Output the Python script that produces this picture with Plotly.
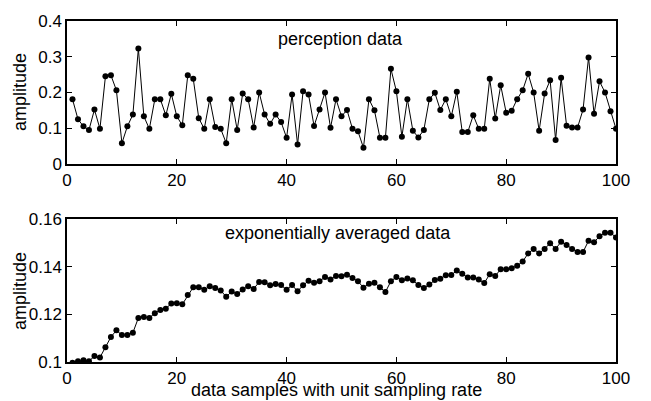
import plotly.graph_objects as go

x = list(range(1, 101))

perception = [
    0.181, 0.125, 0.105, 0.095, 0.152, 0.098, 0.245, 0.248, 0.206, 0.058,
    0.105, 0.138, 0.323, 0.133, 0.098, 0.181, 0.181, 0.136, 0.196, 0.133,
    0.108, 0.248, 0.238, 0.128, 0.098, 0.181, 0.103, 0.098, 0.058, 0.181,
    0.095, 0.197, 0.181, 0.102, 0.200, 0.138, 0.112, 0.138, 0.117, 0.073,
    0.194, 0.054, 0.203, 0.194, 0.106, 0.152, 0.200, 0.101, 0.181, 0.133,
    0.151, 0.098, 0.091, 0.045, 0.181, 0.150, 0.073, 0.073, 0.266, 0.203,
    0.076, 0.181, 0.093, 0.074, 0.095, 0.181, 0.199, 0.151, 0.181, 0.133,
    0.202, 0.089, 0.089, 0.136, 0.098, 0.098, 0.238, 0.127, 0.220, 0.143,
    0.149, 0.181, 0.206, 0.252, 0.200, 0.093, 0.197, 0.234, 0.067, 0.241,
    0.107, 0.102, 0.102, 0.152, 0.298, 0.140, 0.231, 0.200, 0.147, 0.098,
]

averaged = [
    0.0997, 0.1003, 0.1007, 0.1003, 0.1025, 0.1019, 0.1062, 0.1105, 0.1133, 0.1113,
    0.1113, 0.1123, 0.1185, 0.1189, 0.1185, 0.1205, 0.1218, 0.1224, 0.1246, 0.1247,
    0.1242, 0.1281, 0.1314, 0.1314, 0.1303, 0.1318, 0.1311, 0.1300, 0.1274, 0.1296,
    0.1286, 0.1304, 0.1318, 0.1307, 0.1336, 0.1335, 0.1322, 0.1328, 0.1323, 0.1303,
    0.1323, 0.1297, 0.1322, 0.1341, 0.1333, 0.1339, 0.1357, 0.1346, 0.1361, 0.1360,
    0.1366, 0.1353, 0.1339, 0.1312, 0.1329, 0.1333, 0.1314, 0.1294, 0.1339, 0.1357,
    0.1343, 0.1351, 0.1343, 0.1323, 0.1311, 0.1325, 0.1344, 0.1350, 0.1364, 0.1365,
    0.1384, 0.1371, 0.1355, 0.1355, 0.1346, 0.1332, 0.1368, 0.1361, 0.1390, 0.1390,
    0.1394, 0.1404, 0.1422, 0.1456, 0.1475, 0.1456, 0.1475, 0.1499, 0.1475, 0.1505,
    0.1491, 0.1475, 0.1462, 0.1462, 0.1509, 0.1503, 0.1528, 0.1543, 0.1543, 0.1523,
]

x_ticks = [0, 20, 40, 60, 80, 100]
top_y_ticks = [0, 0.1, 0.2, 0.3, 0.4]
top_y_labels = ["0", "0.1", "0.2", "0.3", "0.4"]
bot_y_ticks = [0.1, 0.12, 0.14, 0.16]
bot_y_labels = ["0.1", "0.12", "0.14", "0.16"]

FONT = "Arial, Liberation Sans, sans-serif"
TICKFONT = dict(family=FONT, size=17, color="black")

fig = go.Figure()
fig.add_trace(go.Scatter(
    x=x, y=perception, mode="lines+markers",
    line=dict(color="black", width=1),
    marker=dict(color="black", size=6),
    xaxis="x", yaxis="y", showlegend=False,
))
fig.add_trace(go.Scatter(
    x=x, y=averaged, mode="lines+markers",
    line=dict(color="black", width=1),
    marker=dict(color="black", size=6),
    xaxis="x2", yaxis="y2", showlegend=False,
))

axis_common = dict(
    showline=True, linecolor="black", linewidth=1.5, mirror="ticks",
    ticks="inside", ticklen=5, tickcolor="black", tickwidth=1,
    showgrid=False, zeroline=False, tickfont=TICKFONT,
)

fig.update_layout(
    width=651, height=401,
    margin=dict(l=67, r=35, t=16, b=39),
    paper_bgcolor="white", plot_bgcolor="white",
    xaxis=dict(domain=[0, 1], range=[0, 100], tickvals=x_ticks, anchor="y", **axis_common),
    yaxis=dict(domain=[0.581, 1], range=[0, 0.4], tickvals=top_y_ticks,
               ticktext=top_y_labels, anchor="x", **axis_common),
    xaxis2=dict(domain=[0, 1], range=[0, 100], tickvals=x_ticks, anchor="y2", **axis_common),
    yaxis2=dict(domain=[0, 0.419], range=[0.1, 0.16], tickvals=bot_y_ticks,
                ticktext=bot_y_labels, anchor="x2", **axis_common),
    font=dict(family=FONT, size=18, color="black"),
)

fig.add_annotation(text="perception data", x=38, y=0.35, xref="x", yref="y",
                   xanchor="left", yanchor="middle", showarrow=False,
                   font=dict(family=FONT, size=18, color="black"))
fig.add_annotation(text="exponentially averaged data", x=28.4, y=0.154, xref="x2", yref="y2",
                   xanchor="left", yanchor="middle", showarrow=False,
                   font=dict(family=FONT, size=18, color="black"))
fig.add_annotation(text="amplitude", x=20, y=88, xref="paper", yref="paper",
                   showarrow=False, textangle=-90,
                   font=dict(family=FONT, size=18, color="black"))
fig.add_annotation(text="amplitude", x=20, y=290, xref="paper", yref="paper",
                   showarrow=False, textangle=-90,
                   font=dict(family=FONT, size=18, color="black"))
fig.add_annotation(text="data samples with unit sampling rate", x=336, y=390,
                   xref="paper", yref="paper", showarrow=False,
                   font=dict(family=FONT, size=18, color="black"))

# convert pixel positions of the free labels to paper fractions
plot_w = 651 - 67 - 35
plot_h = 401 - 16 - 39
for ann in fig.layout.annotations:
    if ann.xref == "paper":
        ann.x = (ann.x - 67) / plot_w
        ann.y = (401 - 39 - ann.y) / plot_h
        ann.xanchor = "center"
        ann.yanchor = "middle"

fig.write_html("out.html")
